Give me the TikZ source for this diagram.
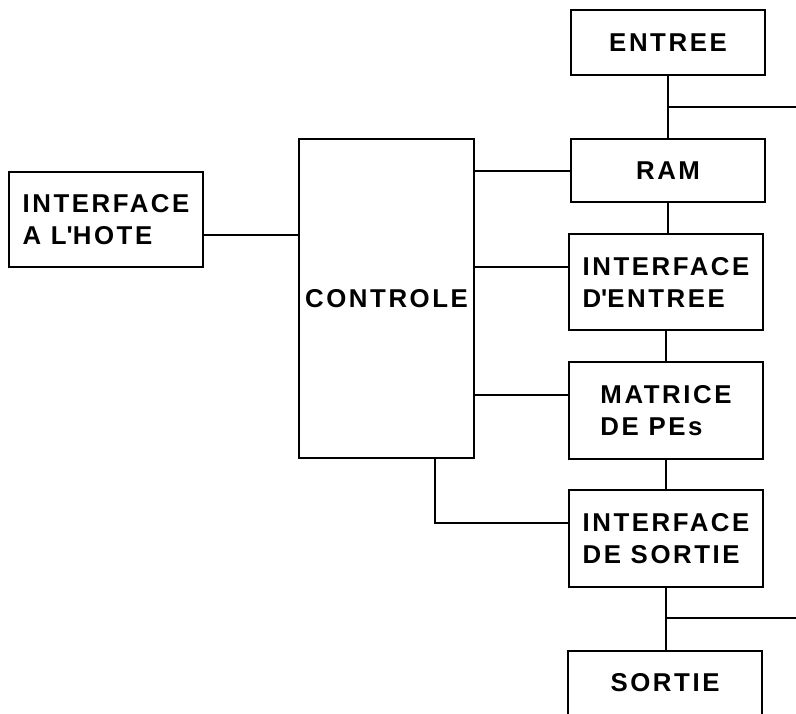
\documentclass[tikz,border=0pt]{standalone}
\usepackage{fontspec}
\setmainfont{Liberation Sans}[LetterSpace=10]
\usepackage{tikz}
\usetikzlibrary{positioning,calc}

\begin{document}
\begin{tikzpicture}[x=1pt,y=-1pt,line width=2pt,
  every node/.style={font=\bfseries\fontsize{25.8}{32}\selectfont,outer sep=0pt},
  blk/.style={draw,minimum width=194pt,inner sep=0pt}]
\useasboundingbox (0,0) rectangle (796,713);
% colonne de droite
\node[blk,minimum height=65pt] (entree) at (668,42.5) {ENTREE};
\node[blk,minimum height=63pt,below=64pt of entree] (ram) {RAM};
\node[blk,minimum height=96pt,align=left,below=32pt of ram,xshift=-2pt] (inent) {INTERFACE\\D\textquotesingle ENTREE};
\node[blk,minimum height=97pt,align=left,below=32pt of inent] (matrice) {MATRICE\\DE PEs};
\node[blk,minimum height=97pt,align=left,below=31pt of matrice] (insort) {INTERFACE\\DE SORTIE};
\node[blk,minimum height=72pt,text depth=9pt,below=64pt of insort,xshift=-1pt] (sortie) {SORTIE};
% controle et hote
\node[draw,minimum width=175pt,minimum height=319pt] (controle) at (386.5,298.5) {CONTROLE};
\node[blk,minimum height=95pt,align=left] (hote) at (106,219.5) {INTERFACE\\A L\textquotesingle HOTE};
\coordinate (busin) at (796,107);
\coordinate (busout) at (796,618);
\draw (entree) -- (ram);
\draw (busin) -- (busin -| entree.south);
\draw (ram) -- (ram |- inent.north);
\draw (inent) -- (matrice);
\draw (matrice) -- (insort);
\draw (insort) -- (sortie.north -| insort.south);
\draw (busout) -- (busout -| insort.south);
\draw ([yshift=-15.5pt]hote.east) -- ([yshift=-15.5pt]hote.east -| controle.west);
\draw (ram.west -| controle.east) -- (ram.west);
\draw ([yshift=15pt]inent.west -| controle.east) -- ([yshift=15pt]inent.west);
\draw ([yshift=15.5pt]matrice.west -| controle.east) -- ([yshift=15.5pt]matrice.west);
\draw ([xshift=48.5pt]controle.south) |- ([yshift=15.5pt]insort.west);
\end{tikzpicture}
\end{document}
